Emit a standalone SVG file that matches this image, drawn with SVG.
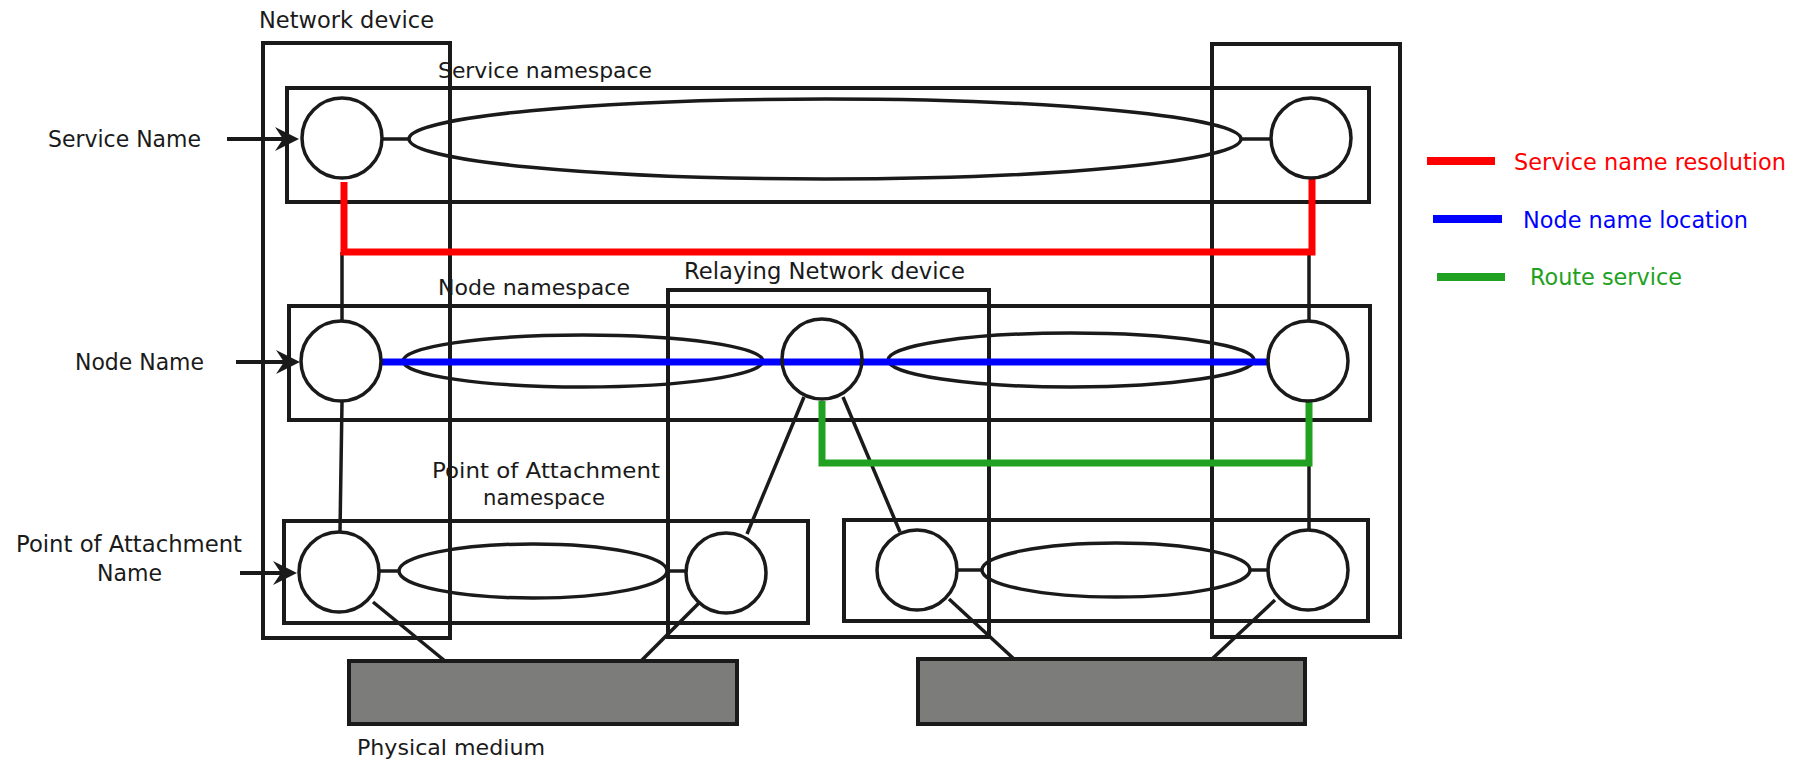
<svg xmlns="http://www.w3.org/2000/svg" width="1808" height="762" viewBox="0 0 1808 762">
  <style>
    .box { fill: none; stroke: #1a1a1a; stroke-width: 4; }
    .ns { fill: none; stroke: #1a1a1a; stroke-width: 4; }
    .node { fill: none; stroke: #1a1a1a; stroke-width: 3.5; }
    .space { fill: none; stroke: #1a1a1a; stroke-width: 3.5; }
    .medium { fill: #7c7d7b; stroke: #1a1a1a; stroke-width: 4; }
    .link { fill: none; stroke: #1a1a1a; stroke-width: 3.5; }
    .input { fill: none; stroke: #1a1a1a; stroke-width: 4; marker-end: url(#head); }
    .red { fill: none; stroke: #ff0000; stroke-width: 7; }
    .blue { fill: none; stroke: #0000ff; stroke-width: 7; }
    .green { fill: none; stroke: #21a121; stroke-width: 7; }
    text { font-family: "DejaVu Sans", "Liberation Sans", sans-serif; font-size: 21px; fill: #1a1a1a; }
    .big { font-size: 23px; }
    .lgR { fill: #ff0000; font-size: 23px; }
    .lgB { fill: #0000ff; font-size: 23px; }
    .lgG { fill: #21a121; font-size: 23px; }
  </style>
  <defs>
    <marker id="head" markerUnits="userSpaceOnUse" viewBox="-16 -13 28 26" refX="0" refY="0" markerWidth="28" markerHeight="26" orient="auto">
      <path d="M10,0 L-14,-12 L-6,0 L-14,12 Z" fill="#1a1a1a"/>
    </marker>
  </defs>
  <rect width="1808" height="762" fill="#ffffff"/>

  <!-- devices -->
  <g id="network-device-left">
    <rect class="box" x="263" y="43" width="187" height="595"/>
    <text class="big" x="259" y="28" textLength="175" lengthAdjust="spacingAndGlyphs">Network device</text>
  </g>
  <g id="network-device-right">
    <rect class="box" x="1212" y="44" width="188" height="593"/>
  </g>
  <g id="relaying-device">
    <rect class="box" x="668" y="290" width="321" height="347"/>
    <text class="big" x="684" y="279" textLength="281" lengthAdjust="spacingAndGlyphs">Relaying Network device</text>
  </g>

  <!-- namespaces -->
  <g id="service-namespace">
    <rect class="ns" x="287" y="88" width="1082" height="114"/>
    <ellipse class="space" cx="825" cy="139" rx="416" ry="40"/>
    <text x="438" y="78" textLength="214" lengthAdjust="spacingAndGlyphs">Service namespace</text>
  </g>
  <g id="node-namespace">
    <rect class="ns" x="289" y="306" width="1081" height="114"/>
    <ellipse class="space" cx="583" cy="361" rx="180" ry="26"/>
    <ellipse class="space" cx="1071" cy="360" rx="183" ry="27"/>
    <text x="438" y="295" textLength="192" lengthAdjust="spacingAndGlyphs">Node namespace</text>
  </g>
  <g id="poa-namespace-left">
    <rect class="ns" x="284" y="521" width="524" height="102"/>
    <ellipse class="space" cx="533" cy="571" rx="134" ry="27"/>
    <text x="432" y="478" textLength="228" lengthAdjust="spacingAndGlyphs">Point of Attachment</text>
    <text x="483" y="505" textLength="122" lengthAdjust="spacingAndGlyphs">namespace</text>
  </g>
  <g id="poa-namespace-right">
    <rect class="ns" x="844" y="520" width="524" height="101"/>
    <ellipse class="space" cx="1116" cy="570" rx="134" ry="27"/>
  </g>

  <!-- physical media -->
  <g id="medium-left">
    <rect class="medium" x="349" y="661" width="388" height="63"/>
    <text x="357" y="755" textLength="188" lengthAdjust="spacingAndGlyphs">Physical medium</text>
  </g>
  <g id="medium-right">
    <rect class="medium" x="918" y="659" width="387" height="65"/>
  </g>

  <!-- connectors -->
  <g id="connectors">
    <line class="link" x1="382" y1="139" x2="409" y2="139"/>
    <line class="link" x1="1241" y1="139" x2="1271" y2="139"/>
    <line class="link" x1="379" y1="571" x2="399" y2="571"/>
    <line class="link" x1="667" y1="571" x2="686" y2="571"/>
    <line class="link" x1="957" y1="570" x2="982" y2="570"/>
    <line class="link" x1="1250" y1="570" x2="1268" y2="570"/>

    <line class="link" x1="342" y1="252" x2="342" y2="321"/>
    <line class="link" x1="342" y1="402" x2="340" y2="532"/>
    <line class="link" x1="1309" y1="252" x2="1309" y2="320"/>
    <line class="link" x1="1309" y1="463" x2="1309" y2="530"/>

    <line class="link" x1="804" y1="397" x2="747" y2="534"/>
    <line class="link" x1="843" y1="397" x2="900" y2="532"/>

    <line class="link" x1="373" y1="602" x2="445" y2="661"/>
    <line class="link" x1="699" y1="603" x2="641" y2="661"/>
    <line class="link" x1="949" y1="599" x2="1014" y2="659"/>
    <line class="link" x1="1275" y1="600" x2="1212" y2="659"/>

    <line class="input" x1="227" y1="139" x2="289" y2="139"/>
    <line class="input" x1="236" y1="362" x2="290" y2="362"/>
    <line class="input" x1="240" y1="573" x2="287" y2="573"/>

    <path class="red" d="M344,182 V252 H1312 V178"/>
    <path class="blue" d="M381,362 H1267"/>
    <path class="green" d="M822,401 V463 H1309 V402"/>
  </g>

  <!-- name nodes -->
  <g id="service-name-left"><circle class="node" cx="342" cy="138" r="40"/></g>
  <g id="service-name-right"><circle class="node" cx="1311" cy="138" r="40"/></g>
  <g id="node-name-left"><circle class="node" cx="341" cy="361" r="40"/></g>
  <g id="node-name-relay"><circle class="node" cx="822" cy="359" r="40"/></g>
  <g id="node-name-right"><circle class="node" cx="1308" cy="361" r="40"/></g>
  <g id="poa-1"><circle class="node" cx="339" cy="572" r="40"/></g>
  <g id="poa-2"><circle class="node" cx="726" cy="573" r="40"/></g>
  <g id="poa-3"><circle class="node" cx="917" cy="570" r="40"/></g>
  <g id="poa-4"><circle class="node" cx="1308" cy="570" r="40"/></g>

  <!-- side labels -->
  <g id="labels">
    <text class="big" x="48" y="147" textLength="153" lengthAdjust="spacingAndGlyphs">Service Name</text>
    <text class="big" x="75" y="370" textLength="129" lengthAdjust="spacingAndGlyphs">Node Name</text>
    <text class="big" x="16" y="552" textLength="226" lengthAdjust="spacingAndGlyphs">Point of Attachment</text>
    <text class="big" x="97" y="581" textLength="65" lengthAdjust="spacingAndGlyphs">Name</text>
  </g>

  <!-- legend -->
  <g id="legend">
    <line class="red" x1="1427" y1="161" x2="1495" y2="161" style="stroke-width:8"/>
    <text class="lgR" x="1514" y="170" textLength="272" lengthAdjust="spacingAndGlyphs">Service name resolution</text>
    <line class="blue" x1="1433" y1="219" x2="1502" y2="219" style="stroke-width:8"/>
    <text class="lgB" x="1523" y="228" textLength="225" lengthAdjust="spacingAndGlyphs">Node name location</text>
    <line class="green" x1="1437" y1="277" x2="1505" y2="277" style="stroke-width:8"/>
    <text class="lgG" x="1530" y="285" textLength="152" lengthAdjust="spacingAndGlyphs">Route service</text>
  </g>
</svg>
